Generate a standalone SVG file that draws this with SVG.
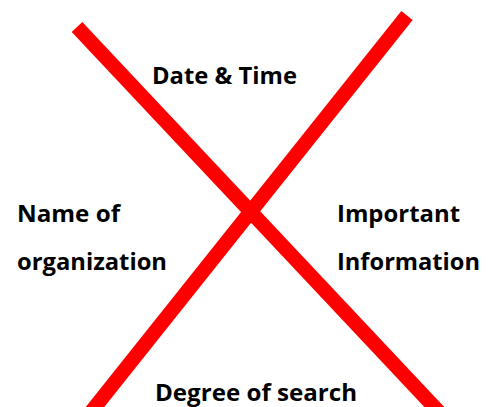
<svg xmlns="http://www.w3.org/2000/svg" width="494" height="407" viewBox="0 0 494 407">
<style>
.lbl{font-family:"Open Sans","Liberation Sans",sans-serif;font-weight:bold;font-size:24px;fill:#000}
.x{stroke:#ff0000;stroke-width:14.5;fill:none;stroke-linecap:butt}
</style>
<rect width="494" height="407" fill="#fff"/>
<g id="connectors">
<line class="x" x1="77" y1="27" x2="439" y2="412"/>
<line class="x" x1="407" y1="15.5" x2="91" y2="412"/>
</g>
<g id="date-time"><text class="lbl" x="152" y="84" textLength="145" lengthAdjust="spacingAndGlyphs">Date &amp; Time</text></g>
<g id="name-of-organization">
<text class="lbl" x="17" y="222" textLength="103" lengthAdjust="spacingAndGlyphs">Name of</text>
<text class="lbl" x="17" y="270" textLength="150" lengthAdjust="spacingAndGlyphs">organization</text>
</g>
<g id="important-information">
<text class="lbl" x="337" y="222" textLength="123" lengthAdjust="spacingAndGlyphs">Important</text>
<text class="lbl" x="337" y="270" textLength="143" lengthAdjust="spacingAndGlyphs">Information</text>
</g>
<g id="degree-of-search"><text class="lbl" x="155" y="401" textLength="202" lengthAdjust="spacingAndGlyphs">Degree of search</text></g>
</svg>
